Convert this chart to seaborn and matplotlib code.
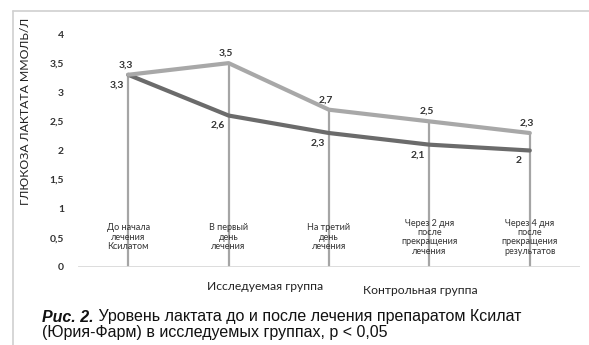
import matplotlib
matplotlib.use("Agg")
import matplotlib.pyplot as plt
import seaborn as sns
import pandas as pd
from matplotlib.lines import Line2D

categories = ["До начала\nлечения\nКсилатом", "В первый\nдень\nлечения", "На третий\nдень\nлечения",
              "Через 2 дня\nпосле\nпрекращения\nлечения", "Через 4 дня\nпосле\nпрекращения\nрезультатов"]
study_group = [3.3, 2.6, 2.3, 2.1, 2.0]
control_group = [3.3, 3.5, 2.7, 2.5, 2.3]
study_labels = ["3,3", "2,6", "2,3", "2,1", "2"]
control_labels = ["3,3", "3,5", "2,7", "2,5", "2,3"]
y_ticks = [0, 0.5, 1, 1.5, 2, 2.5, 3, 3.5, 4]
y_tick_labels = ["0", "0,5", "1", "1,5", "2", "2,5", "3", "3,5", "4"]
series_names = ["Исследуемая группа", "Контрольная группа"]
y_title = "ГЛЮКОЗА ЛАКТАТА ММОЛЬ/Л"
caption_bold = "Рис. 2."
caption_rest = " Уровень лактата до и после лечения препаратом Ксилат"
caption_line2 = "(Юрия-Фарм) в исследуемых группах, p < 0,05"

sns.set_style("white")
plt.rcParams["font.family"] = ["Lato", "DejaVu Sans"]

W, H = 589, 345
fig = plt.figure(figsize=(W / 100, H / 100), dpi=100)
ax = fig.add_axes([78 / W, 1 - 267 / H, (580 - 78) / W, (267 - 34) / H])

x = list(range(len(categories)))
df = pd.DataFrame({"x": x * 2, "y": study_group + control_group,
                   "group": [series_names[0]] * 5 + [series_names[1]] * 5})

# drop lines from upper series
for xi, yi in zip(x, control_group):
    ax.plot([xi, xi], [0, max(yi, 0)], color="#a5a5a5", lw=1.6, zorder=1, solid_capstyle="butt")

sns.lineplot(data=df, x="x", y="y", hue="group", palette={series_names[0]: "#6b6b6b", series_names[1]: "#a8a8a8"},
             linewidth=3.0, ax=ax, legend=False, zorder=3, sort=False)

ax.set_xlim(-0.5, 4.5)
ax.set_ylim(0, 4)
ax.axhline(0, color="#d9d9d9", lw=2, zorder=2)
for s in ax.spines.values():
    s.set_visible(False)
ax.set_xticks([])
ax.set_yticks(y_ticks)
ax.set_yticklabels(y_tick_labels, fontsize=7.5, color="#333333", fontweight="bold")
ax.tick_params(axis="y", length=0, pad=10)
ax.set_xlabel("")
ax.set_ylabel(y_title, fontsize=8.8, color="#222222")
ax.yaxis.set_label_coords((31 - 78) / (580 - 78), (267 - 111) / (267 - 34))

txt_kw = dict(fontsize=7.5, color="#333333", fontweight="bold")
for xi, yi, lab in zip(x, control_group, control_labels):
    ax.annotate(lab, (xi, yi), xytext=(-2, 4), textcoords="offset points", ha="center", va="bottom", **txt_kw)
for xi, yi, lab in zip(x, study_group, study_labels):
    ax.annotate(lab, (xi, yi), xytext=(-8, -4), textcoords="offset points", ha="center", va="top", **txt_kw)

for xi, lab in zip(x, categories):
    ax.text(xi, 0.51, lab, ha="center", va="center", fontsize=6.5, color="#333333", linespacing=1.05)

# legend-like series labels
fig.text(265 / W, 1 - 287 / H, series_names[0], ha="center", va="center", fontsize=8.7, color="#222222")
fig.text(420 / W, 1 - 290 / H, series_names[1], ha="center", va="center", fontsize=8.7, color="#222222")

# caption
cap_font = ["Liberation Sans", "DejaVu Sans"]
t = fig.text(42 / W, 1 - 317 / H, caption_bold, ha="left", va="center", fontsize=11.5,
             fontweight="bold", fontstyle="italic", color="#111111", family=cap_font)
fig.canvas.draw()
bb = t.get_window_extent()
fig.text(bb.x1 / W / (fig.dpi / 100), 1 - 317 / H, caption_rest, ha="left", va="center", fontsize=11.5,
         color="#111111", family=cap_font)
fig.text(42 / W, 1 - 333 / H, caption_line2, ha="left", va="center", fontsize=11.5, color="#111111", family=cap_font)

# outer frame
fig.add_artist(Line2D([13 / W, 1], [1 - 11 / H, 1 - 11 / H], color="#d0d0d0", lw=1.2))
fig.add_artist(Line2D([13 / W, 13 / W], [0, 1 - 11 / H], color="#d0d0d0", lw=1.2))

fig.savefig("out.png", dpi=100)
